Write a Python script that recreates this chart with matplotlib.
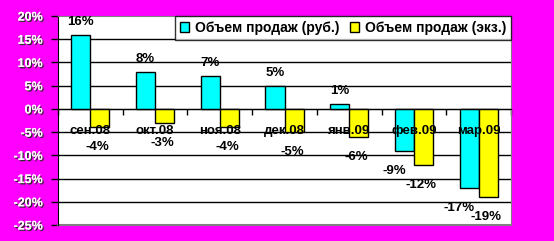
import matplotlib
matplotlib.use('Agg')
import matplotlib.pyplot as plt
import matplotlib.patheffects as pe
from matplotlib.patches import Patch
import numpy as np

plt.rcParams['font.family'] = ['Liberation Sans', 'DejaVu Sans']

# data
months = ['сен.08', 'окт.08', 'ноя.08', 'дек.08', 'янв.09', 'фев.09', 'мар.09']
sales_rub = [16, 8, 7, 5, 1, -9, -17]
sales_ekz = [-4, -3, -4, -5, -6, -12, -19]
series_names = ['Объем продаж (руб.)', 'Объем продаж (экз.)']
y_ticks = [-25, -20, -15, -10, -5, 0, 5, 10, 15, 20]

MAGENTA = '#FF00FF'
CYAN = '#00FFFF'
YELLOW = '#FFFF00'

fig = plt.figure(figsize=(5.54, 2.41), dpi=100)
fig.patch.set_facecolor(MAGENTA)
ax = fig.add_axes([58 / 554, 16 / 241, 453 / 554, 209 / 241])
ax.set_facecolor('white')

x = np.arange(len(months))
w = 0.294

# gridlines
for v in y_ticks[1:-1]:
    ax.axhline(v, color='black', lw=1, zorder=1)

ax.bar(x - w / 2, sales_rub, w, color=CYAN, edgecolor='black', lw=1, zorder=2)
ax.bar(x + w / 2, sales_ekz, w, color=YELLOW, edgecolor='black', lw=1, zorder=2)

ax.set_xlim(-0.5, len(months) - 0.5)
ax.set_ylim(y_ticks[0], y_ticks[-1])

# zero axis with tick marks between categories
ax.spines['bottom'].set_position(('data', 0))
ax.spines['bottom'].set_color('black')
ax.spines['bottom'].set_zorder(3)
ax.spines['left'].set_color('black')
ax.spines['top'].set_color('#808080')
ax.spines['right'].set_color('#808080')
ax.plot([0, 1], [0, 0], transform=ax.transAxes, color='#808080', lw=1.5, clip_on=False)

ax.set_xticks(np.arange(-0.5, len(months), 1))
ax.set_xticklabels([])
ax.tick_params(axis='x', direction='out', length=4, width=1, color='black')

ax.set_yticks(y_ticks)
ax.set_yticklabels([f'{v}%' for v in y_ticks])
ax.tick_params(axis='y', direction='out', length=5, width=1, pad=6, labelsize=9,
               labelcolor='white')
for lbl in ax.get_yticklabels():
    lbl.set_fontweight('bold')
    lbl.set_path_effects([pe.withSimplePatchShadow(offset=(1, -1), shadow_rgbFace='#303030', alpha=1.0),
                          pe.Normal()])

# category labels sit on the -5% line
for i, m in enumerate(months):
    ax.text(i, -4.8, m, ha='center', va='center', fontsize=9.5, fontweight='bold', zorder=4)

# data labels
def label_bars(xs, vals, neg_dx):
    for xi, v in zip(xs, vals):
        if v >= 0:
            off = (0, 13)
        else:
            off = (neg_dx, -20)
        ax.annotate(f'{v}%', xy=(xi, v), xytext=off, textcoords='offset pixels',
                    ha='center', va='center', fontsize=9.5, fontweight='bold', zorder=4)

label_bars(x - w / 2, sales_rub, -10)
label_bars(x + w / 2, sales_ekz, -2)

handles = [Patch(facecolor=CYAN, edgecolor='black'), Patch(facecolor=YELLOW, edgecolor='black')]
leg = ax.legend(handles, series_names, loc='upper right', ncol=2, borderaxespad=0,
                frameon=True, fancybox=False, handlelength=0.65, handleheight=0.65,
                handletextpad=0.4, columnspacing=0.8, borderpad=0.35,
                prop={'size': 10, 'weight': 'bold'})
leg.get_frame().set_edgecolor('black')
leg.get_frame().set_linewidth(1)
leg.set_zorder(5)

plt.savefig('out.png', dpi=100, facecolor=MAGENTA)
